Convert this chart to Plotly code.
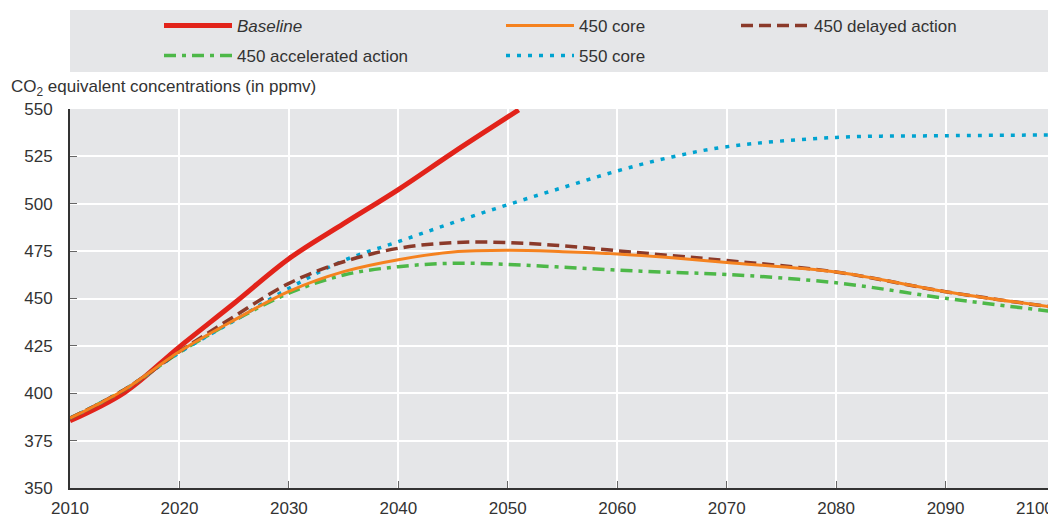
import plotly.graph_objects as go

# data
years_base = [2010, 2015, 2020, 2025, 2030, 2035, 2040, 2045, 2051]
baseline = [385.5, 400.5, 424.5, 447.5, 471, 489.5, 507.5, 527, 549.5]

years = [2010, 2015, 2020, 2025, 2030, 2035, 2040, 2045, 2050, 2055, 2060, 2065, 2070, 2080, 2090, 2100]
core_450 = [386.8, 402, 422, 438.6, 453.8, 464.2, 470.5, 474.5, 475.4, 474.7, 473.5, 471.5, 469, 464, 453.6, 445.3]
delayed_450 = [386.8, 402, 422, 440.5, 458, 469.4, 476.5, 479.5, 479.5, 477.8, 475.2, 472.6, 470, 464, 453.6, 445.3]
accel_450 = [386.8, 402, 421.5, 438.3, 452.8, 462.4, 466.8, 468.6, 468, 466.5, 465, 463.8, 462.7, 458.3, 450.1, 443]
core_550 = [386.8, 402, 421.5, 438.3, 455.4, 470, 480, 490, 499.5, 508.5, 517.3, 524.7, 530.1, 535, 535.9, 536.3]

x_ticks = list(range(2010, 2101, 10))
y_ticks = list(range(350, 551, 25))

FONT = "Liberation Sans Narrow, Arial Narrow, Liberation Sans, sans-serif"

fig = go.Figure()
fig.add_trace(go.Scatter(x=years_base, y=baseline, name="<i>Baseline</i>", mode="lines",
                         line=dict(color="#e2231a", width=5, shape="spline"), legend="legend"))
fig.add_trace(go.Scatter(x=years, y=accel_450, name="450 accelerated action", mode="lines",
                         line=dict(color="#4db848", width=3.5, dash="12px,6px,4px,6px", shape="spline"),
                         legend="legend2"))
fig.add_trace(go.Scatter(x=years, y=core_550, name="550 core", mode="lines",
                         line=dict(color="#00a3d0", width=3.5, dash="4px,7px", shape="spline"),
                         legend="legend4"))
fig.add_trace(go.Scatter(x=years, y=delayed_450, name="450 delayed action", mode="lines",
                         line=dict(color="#8b3a2a", width=3.5, dash="12px,6px", shape="spline"),
                         legend="legend5"))
fig.add_trace(go.Scatter(x=years, y=core_450, name="450 core", mode="lines",
                         line=dict(color="#f5821f", width=3, shape="spline"), legend="legend3"))

# page pixel -> paper coords (plot area spans x 70..1055, y 109..488 on the page)
def py(p):
    return (488 - p) / 379


def pxx(p):
    return (p - 70) / 985


leg = dict(orientation="v", bgcolor="rgba(0,0,0,0)", yanchor="middle", xanchor="left",
           itemwidth=68, font=dict(family=FONT, size=17, color="#333"))
fig.update_layout(
    showlegend=True,
    legend=dict(leg, x=pxx(159), y=py(26)),
    legend2=dict(leg, x=pxx(159), y=py(56)),
    legend3=dict(leg, x=pxx(501), y=py(26)),
    legend4=dict(leg, x=pxx(501), y=py(56)),
    legend5=dict(leg, x=pxx(736), y=py(26)),
)

fig.add_shape(type="rect", xref="paper", yref="paper", x0=0, x1=1.01, y0=py(72), y1=py(10),
              fillcolor="#e5e6e8", line_width=0, layer="below")
fig.add_annotation(xref="paper", yref="paper", x=pxx(9), y=py(88), xanchor="left", yanchor="middle",
                   text="CO<sub>2</sub> equivalent concentrations (in ppmv)", showarrow=False,
                   font=dict(family=FONT, size=17, color="#333"))

# last year label would be clipped by the window edge, so it is right-aligned instead
x_text = [str(v) for v in x_ticks[:-1]] + [""]
fig.add_annotation(xref="paper", yref="paper", x=pxx(1056), y=py(508), xanchor="right", yanchor="middle",
                   text=str(x_ticks[-1]), showarrow=False, font=dict(family=FONT, size=17, color="#333"))

fig.update_xaxes(range=[2010, 2100], tickvals=x_ticks, ticktext=x_text, showgrid=True, gridcolor="white",
                 gridwidth=2, showline=True, linecolor="#333", linewidth=2, ticks="inside", ticklen=7,
                 tickcolor="#666", zeroline=False, ticklabelstandoff=4,
                 automargin=False, tickfont=dict(family=FONT, size=17, color="#333"))
fig.update_yaxes(range=[350, 550], tickvals=y_ticks, showgrid=True, gridcolor="white", gridwidth=2,
                 showline=True, linecolor="#333", linewidth=2, ticks="inside", ticklen=7,
                 tickcolor="#666", zeroline=False, ticklabelstandoff=12, automargin=False,
                 tickfont=dict(family=FONT, size=17, color="#333"))

# the page adds an 8px body margin, so the figure is sized to fit inside it
fig.update_layout(width=1048, height=509, margin=dict(l=62, r=1, t=101, b=29, autoexpand=False),
                  plot_bgcolor="#e5e6e8", paper_bgcolor="white",
                  font=dict(family=FONT, size=17, color="#333"))

fig.write_html("out.html")
